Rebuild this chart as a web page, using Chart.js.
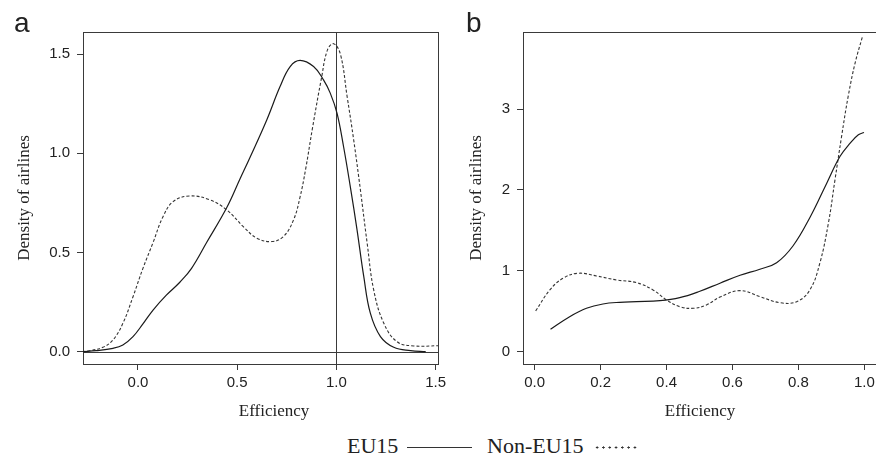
<!DOCTYPE html>
<html>
<head>
<meta charset="utf-8">
<script src="https://cdn.jsdelivr.net/npm/chart.js@4.4.1/dist/chart.umd.min.js"></script>
<style>
  html, body { margin: 0; padding: 0; background: #fff; overflow: hidden; }
  #wrap { position: relative; width: 876px; height: 457px; overflow: hidden; }
  canvas { position: absolute; top: 0; }
  #chartA { left: 0; }
  #chartB { left: 440px; }
  .leg { position: absolute; font-family: 'Liberation Serif', serif; font-size: 22px; line-height: 22px; color: #222; white-space: nowrap; }
  .legLine { position: absolute; height: 1px; background: #333; }
  .legDots { position: absolute; height: 3px;
    background: radial-gradient(circle, #333 0.9px, transparent 1.3px) 0 0 / 6.3px 3px repeat-x; }
</style>
</head>
<body>
<div id="wrap">
  <canvas id="chartA" width="460" height="425"></canvas>
  <canvas id="chartB" width="440" height="425"></canvas>
  <div class="leg" style="left:347px; top:435px;">EU15</div>
  <div class="legLine" style="left:407px; top:447px; width:65px;"></div>
  <div class="leg" style="left:487px; top:435px;">Non-EU15</div>
  <div class="legDots" style="left:594px; top:446px; width:44px;"></div>
</div>
<script>
// Panel a: kernel densities of efficiency
const effEU15A = [-0.28, -0.21, -0.126, -0.076, -0.025, 0.025, 0.076, 0.143, 0.211, 0.27, 0.346, 0.447, 0.514, 0.565, 0.649, 0.716, 0.767, 0.817, 0.885, 0.935, 0.969, 1.003, 1.036, 1.07, 1.104, 1.138, 1.171, 1.222, 1.289, 1.374, 1.45];
const denEU15A = [0.0, 0.005, 0.017, 0.034, 0.076, 0.14, 0.21, 0.285, 0.35, 0.42, 0.55, 0.725, 0.87, 0.98, 1.168, 1.336, 1.437, 1.468, 1.437, 1.37, 1.303, 1.202, 1.034, 0.832, 0.614, 0.378, 0.194, 0.076, 0.022, 0.005, 0.0];
const effNonA = [-0.28, -0.244, -0.177, -0.126, -0.076, -0.025, 0.025, 0.076, 0.126, 0.177, 0.261, 0.362, 0.447, 0.531, 0.599, 0.674, 0.733, 0.784, 0.817, 0.845, 0.88, 0.925, 0.955, 0.986, 1.02, 1.054, 1.087, 1.121, 1.155, 1.188, 1.239, 1.306, 1.39, 1.512];
const denNonA = [0.0, 0.005, 0.022, 0.059, 0.143, 0.277, 0.42, 0.55, 0.68, 0.756, 0.785, 0.765, 0.715, 0.63, 0.572, 0.555, 0.58, 0.664, 0.78, 0.92, 1.13, 1.38, 1.521, 1.552, 1.5, 1.286, 1.068, 0.815, 0.547, 0.311, 0.143, 0.05, 0.029, 0.03];

// Panel b
const effEU15B = [0.048, 0.106, 0.157, 0.207, 0.258, 0.309, 0.38, 0.44, 0.501, 0.562, 0.623, 0.683, 0.734, 0.784, 0.835, 0.886, 0.926, 0.957, 0.982, 0.999];
const denEU15B = [0.277, 0.433, 0.537, 0.59, 0.611, 0.619, 0.631, 0.668, 0.747, 0.847, 0.945, 1.02, 1.1, 1.31, 1.66, 2.084, 2.413, 2.579, 2.682, 2.71];
const effNonB = [0.003, 0.046, 0.086, 0.132, 0.187, 0.248, 0.309, 0.359, 0.4, 0.44, 0.481, 0.521, 0.562, 0.623, 0.683, 0.744, 0.795, 0.835, 0.865, 0.891, 0.911, 0.931, 0.951, 0.972, 0.994];
const denNonB = [0.504, 0.764, 0.908, 0.97, 0.937, 0.887, 0.854, 0.764, 0.64, 0.557, 0.537, 0.578, 0.675, 0.755, 0.681, 0.606, 0.619, 0.764, 1.094, 1.589, 2.125, 2.661, 3.156, 3.569, 3.891];

// tick labels
const xTicksA = [0, 0.5, 1.0, 1.5];
const yTicksA = [0, 0.5, 1.0, 1.5];
const xTicksB = [0, 0.2, 0.4, 0.6, 0.8, 1.0];
const yTicksB = [0, 1, 2, 3];

const xTitle = 'Efficiency';
const yTitle = 'Density of airlines';

const pairs = (xs, ys) => xs.map((x, i) => ({ x: x, y: ys[i] }));

// box, reference lines, titles
const decor = {
    id: 'decor',
    beforeDatasetsDraw(chart, args, opts) {
        const { ctx, chartArea: a, scales } = chart;
        ctx.save();
        ctx.strokeStyle = '#3a3a3a';
        ctx.lineWidth = 1;
        ctx.strokeRect(a.left + 0.5, a.top + 0.5, a.right - a.left, a.bottom - a.top);
        if (opts.refX !== undefined) {
            const px = Math.round(scales.x.getPixelForValue(opts.refX)) + 0.5;
            ctx.beginPath(); ctx.moveTo(px, a.top); ctx.lineTo(px, a.bottom); ctx.stroke();
        }
        if (opts.refY !== undefined) {
            const py = Math.round(scales.y.getPixelForValue(opts.refY)) + 0.5;
            ctx.beginPath(); ctx.moveTo(a.left, py); ctx.lineTo(a.right, py); ctx.stroke();
        }
        ctx.restore();
    },
    afterDraw(chart, args, opts) {
        const ctx = chart.ctx;
        ctx.save();
        ctx.fillStyle = '#222';
        ctx.textBaseline = 'alphabetic';
        ctx.font = '28px "Liberation Sans", Arial, sans-serif';
        ctx.textAlign = 'left';
        ctx.fillText(opts.letter, opts.letterX, 32);
        ctx.font = '17px "Liberation Serif", serif';
        ctx.textAlign = 'center';
        ctx.fillText(xTitle, opts.xTitleX, 416);
        ctx.translate(opts.yTitleX, (chart.chartArea.top + chart.chartArea.bottom) / 2);
        ctx.rotate(-Math.PI / 2);
        ctx.fillText(yTitle, 0, 0);
        ctx.restore();
    }
};

function makeChart(id, eu, non, xr, yr, xt, yt, digitsY, padRight, decorOpts) {
    const tickFont = { family: '"Liberation Sans", Arial, sans-serif', size: 15 };
    return new Chart(document.getElementById(id), {
        type: 'line',
        data: {
            datasets: [{
                label: 'EU15',
                data: eu,
                borderColor: '#1a1a1a',
                borderWidth: 1.2,
                pointRadius: 0,
                tension: 0.4,
                fill: false
            }, {
                label: 'Non-EU15',
                data: non,
                borderColor: '#333',
                borderWidth: 1.1,
                borderDash: [3, 2],
                pointRadius: 0,
                tension: 0.4,
                fill: false
            }]
        },
        options: {
            responsive: false,
            animation: false,
            layout: { padding: { top: 32, right: padRight, left: 0, bottom: 0 } },
            scales: {
                x: {
                    type: 'linear',
                    min: xr[0], max: xr[1],
                    border: { display: false },
                    grid: { drawOnChartArea: false, drawTicks: true, tickLength: 6, color: '#3a3a3a' },
                    ticks: { font: tickFont, color: '#222', padding: 4, maxRotation: 0,
                             callback: v => v.toFixed(1) },
                    afterBuildTicks: s => { s.ticks = xt.map(v => ({ value: v })); },
                    afterFit: s => { s.height = 61; s.paddingLeft = 0; s.paddingRight = 0; }
                },
                y: {
                    type: 'linear',
                    min: yr[0], max: yr[1],
                    border: { display: false },
                    grid: { drawOnChartArea: false, drawTicks: true, tickLength: 6, color: '#3a3a3a' },
                    ticks: { font: tickFont, color: '#222', padding: 7,
                             callback: v => v.toFixed(digitsY) },
                    afterBuildTicks: s => { s.ticks = yt.map(v => ({ value: v })); },
                    afterFit: s => { s.width = 83; s.paddingTop = 0; s.paddingBottom = 0; }
                }
            },
            plugins: {
                legend: { display: false },
                tooltip: { enabled: false },
                decor: decorOpts
            }
        },
        plugins: [decor]
    });
}

makeChart('chartA', pairs(effEU15A, denEU15A), pairs(effNonA, denNonA),
    [-0.277, 1.512], [-0.062, 1.611], xTicksA, yTicksA, 1, 22,
    { refX: 1, refY: 0, letter: 'a', letterX: 14, xTitleX: 274, yTitleX: 28.5 });

makeChart('chartB', pairs(effEU15B, denEU15B), pairs(effNonB, denNonB),
    [-0.0355, 1.04], [-0.152, 3.953], xTicksB, yTicksB, 0, 2.5,
    { letter: 'b', letterX: 26, xTitleX: 260, yTitleX: 41 });
</script>
</body>
</html>
